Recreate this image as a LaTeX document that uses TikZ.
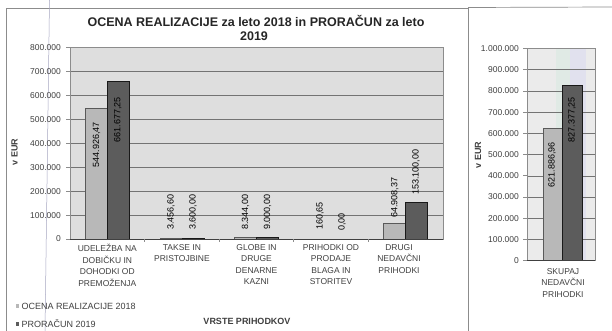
\documentclass[tikz,border=0pt]{standalone}
\usepackage{fontspec}
\setmainfont{Liberation Sans}
\usetikzlibrary{positioning}
\definecolor{plotbg}{RGB}{222,222,222}
\definecolor{tintg}{RGB}{224,234,229}
\definecolor{tintb}{RGB}{225,225,238}
\begin{document}
\begin{tikzpicture}[
    x = 1pt,
    y = -1pt,
    txt/.style = {
      inner sep = 0pt,
      text = black!75
    },
    ticklabel/.style = {
      txt,
      anchor = east,
      font = \fontsize{8.5}{10}\selectfont
    },
    category/.style = {
      txt,
      anchor = north,
      align = center,
      font = \fontsize{8.5}{11.5}\selectfont
    },
    barvalue/.style = {
      txt,
      text = black,
      rotate = 90,
      font = \fontsize{9}{10}\selectfont
    },
    ttl/.style = {
      txt,
      text = black!85,
      anchor = base,
      font = \bfseries\fontsize{12.5}{14}\selectfont
    },
    axislabel/.style = {
      txt,
      font = \bfseries\fontsize{9}{10}\selectfont
    },
    legend/.style = {
      txt,
      anchor = west,
      font = \fontsize{9}{10}\selectfont
    },
    legmark/.style = {
      inner sep = 0pt,
      minimum size = 3.5pt
    },
    gridline/.style = {
      draw = black!55,
      line width = 0.6pt
    },
    bar2018/.style = {
      fill = black!28,
      draw = black!65,
      line width = 0.6pt
    },
    bar2019/.style = {
      fill = black!64,
      draw = black!90,
      line width = 0.6pt
    },
    chartframe/.style = {
      draw = black!45,
      line width = 0.7pt
    }
  ]
    \useasboundingbox (0, 0) rectangle (612, 331);
    \fill[white] (0, 0) rectangle (612, 331);

    \draw[chartframe] (6, 331) -- (6, 8) -- (468, 8) -- (468, 331);
    \draw[chartframe] (468, 7.5) -- (612, 7);
    \draw[blue!30!black!35, line width = 0.5pt] (49.5, 0) -- (45, 331);

    \node[ttl] (title) at (256, 26.7) {OCENA REALIZACIJE za leto 2018 in PRORAČUN za leto};
    \node[ttl] (title2) at (254, 40.7) {2019};

    \fill[plotbg] (70, 47.7) rectangle (443, 239);
    \foreach \k in {1, ..., 7} {
      \draw[gridline] (70, {239 - 23.9*\k}) -- (443, {239 - 23.9*\k});
    }
    \foreach \k/\t in {0/0, 1/100.000, 2/200.000, 3/300.000, 4/400.000, 5/500.000, 6/600.000, 7/700.000, 8/800.000} {
      \node[ticklabel] (yl\k) at (61, {239 - 23.9*\k}) {\t};
      \draw[chartframe] (66, {239 - 23.9*\k}) -- (70, {239 - 23.9*\k});
    }
    \foreach \i/\a/\b in {1/544.926/661.677, 2/3.457/3.6, 3/8.344/9, 4/0.161/0, 5/64.908/153.1} {
      \pgfmathsetmacro{\c}{70 + 74.6*(\i - 0.5)}
      \draw[bar2018] ({\c - 22}, 239) rectangle (\c, {239 - 0.239*\a});
      \draw[bar2019] (\c, 239) rectangle ({\c + 22}, {239 - 0.239*\b});
    }
    \draw[chartframe] (70, 47.7) rectangle (443, 239);
    \draw[black!75, line width = 0.8pt] (70, 239) -- (443, 239);
    \foreach \k in {1, ..., 4} {
      \draw[chartframe] ({70 + 74.6*\k}, 239) -- ++(0, 3);
    }

    \node[barvalue, anchor = east] (v1a) at (96.5, 122) {544.926,47};
    \node[barvalue, anchor = east] (v1b) at (117.8, 97) {661.677,25};
    \node[barvalue, anchor = west] (v2a) at (171, 230) {3.456,60};
    \node[barvalue, anchor = west] (v2b) at (193, 230) {3.600,00};
    \node[barvalue, anchor = west] (v3a) at (245.5, 230) {8.344,00};
    \node[barvalue, anchor = west] (v3b) at (267.5, 230) {9.000,00};
    \node[barvalue, anchor = west] (v4a) at (320, 230) {160,65};
    \node[barvalue, anchor = west] (v4b) at (342, 231) {0,00};
    \node[barvalue, anchor = west] (v5a) at (394.7, 218) {64.908,37};
    \node[barvalue, anchor = west] (v5b) at (416, 195) {153.100,00};

    \node[category] (c1) at (107.3, 244) {UDELEŽBA NA\\DOBIČKU IN\\DOHODKI OD\\PREMOŽENJA};
    \node[category] (c2) at (181.9, 244) {TAKSE IN\\PRISTOJBINE};
    \node[category] (c3) at (256.5, 244) {GLOBE IN\\DRUGE\\DENARNE\\KAZNI};
    \node[category] (c4) at (331, 244) {PRIHODKI OD\\PRODAJE\\BLAGA IN\\STORITEV};
    \node[category] (c5) at (399, 244) {DRUGI\\NEDAVČNI\\PRIHODKI};

    \node[axislabel, rotate = 90] (yaxis) at (14.5, 152) {v EUR};
    \node[axislabel] (xaxis) at (247, 321) {VRSTE PRIHODKOV};

    \node[legmark, fill = black!28] (mk1) at (17.5, 306) {};
    \node[legend, right = 2pt of mk1] (leg1) {OCENA REALIZACIJE 2018};
    \node[legmark, fill = black!64] (mk2) at (17.5, 324) {};
    \node[legend, right = 2pt of mk2] (leg2) {PRORAČUN 2019};

    \fill[plotbg!60!white] (527, 48.5) rectangle (595, 260.7);
    \fill[tintg] (556, 48.5) rectangle (570, 260.7);
    \fill[tintb] (570, 48.5) rectangle (586, 260.7);
    \foreach \k in {1, ..., 9} {
      \draw[gridline] (527, {260.7 - 21.22*\k}) -- (595, {260.7 - 21.22*\k});
    }
    \foreach \k/\t in {0/0, 1/100.000, 2/200.000, 3/300.000, 4/400.000, 5/500.000, 6/600.000, 7/700.000, 8/800.000, 9/900.000, 10/1.000.000} {
      \node[ticklabel] (yr\k) at (519, {260.7 - 21.22*\k}) {\t};
      \draw[chartframe] (523, {260.7 - 21.22*\k}) -- (527, {260.7 - 21.22*\k});
    }
    \draw[bar2018] (543, 260.7) rectangle (562.5, {260.7 - 0.2122*621.887});
    \draw[bar2019] (562.5, 260.7) rectangle (582.5, {260.7 - 0.2122*827.377});
    \draw[chartframe] (527, 48.5) rectangle (595, 260.7);
    \draw[black!75, line width = 0.8pt] (527, 260.7) -- (595, 260.7);

    \node[barvalue, anchor = east] (vt1) at (552, 142) {621.886,96};
    \node[barvalue, anchor = east] (vt2) at (572, 97) {827.377,25};

    \node[category] (ct) at (563, 268) {SKUPAJ\\NEDAVČNI\\PRIHODKI};
    \node[axislabel, rotate = 90] (yaxis2) at (478, 155) {v EUR};
  \end{tikzpicture}
\end{document}
